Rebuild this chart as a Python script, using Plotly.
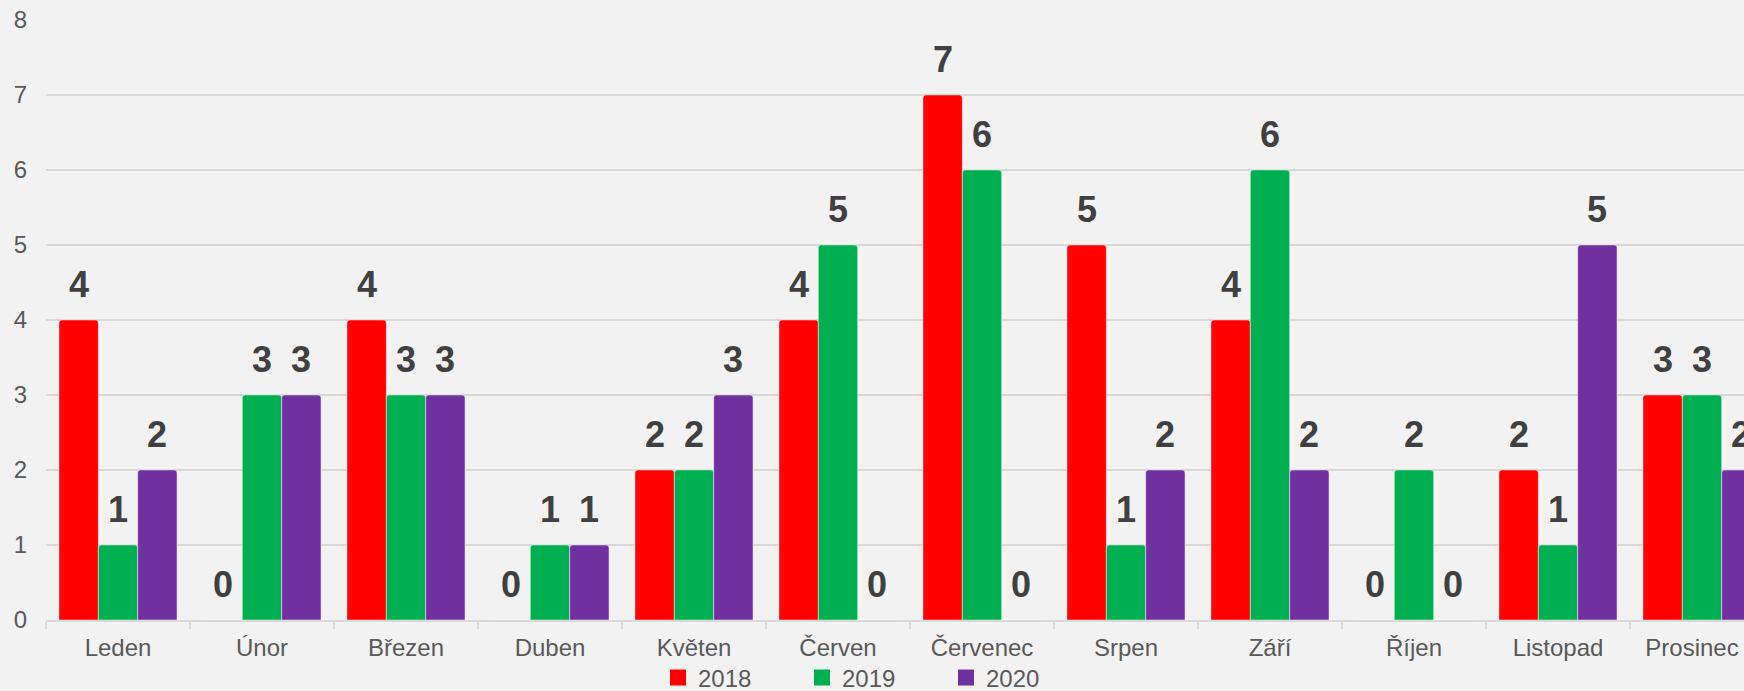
import plotly.graph_objects as go

months = ["Leden", "Únor", "Březen", "Duben", "Květen", "Červen",
          "Červenec", "Srpen", "Září", "Říjen", "Listopad", "Prosinec"]
years = ["2018", "2019", "2020"]
v2018 = [4, 0, 4, 0, 2, 4, 7, 5, 4, 0, 2, 3]
v2019 = [1, 3, 3, 1, 2, 5, 6, 1, 6, 2, 1, 3]
v2020 = [2, 3, 3, 1, 3, 0, 0, 2, 2, 0, 5, 2]
colors = ["#FF0000", "#00B050", "#7030A0"]
yticks = [0, 1, 2, 3, 4, 5, 6, 7, 8]

series = [v2018, v2019, v2020]

W, H = 1744, 691
ML, MR, MT, MB = 46, 0, 20, 71
cat_px = 144.0
bargap = 0.18
plot_w = W - ML - MR
plot_h = H - MT - MB
bar_px = cat_px * (1 - bargap) / 3

# last label nudged left so it fits inside the page (as in the source chart)
ticktext = months[:-1] + [months[-1] + "\u00a0\u00a0\u00a0"]

fig = go.Figure()
for i, (name, vals, col) in enumerate(zip(years, series, colors)):
    fig.add_trace(go.Bar(
        x=months, y=vals, name=name, marker_color=col,
        marker_line=dict(color="rgba(255,255,255,0.45)", width=1),
        showlegend=False,
    ))
    fig.add_trace(go.Scatter(
        x=[None], y=[None], mode="markers", name=name,
        marker=dict(symbol="square", size=16, color=col),
        showlegend=True,
    ))

annotations = []
for i, vals in enumerate(series):
    for m, v in zip(months, vals):
        annotations.append(dict(
            x=m, y=v, xref="x", yref="y", text=str(v), showarrow=False,
            xanchor="center", yanchor="bottom",
            xshift=(i - 1) * bar_px, yshift=13,
            font=dict(family="Liberation Sans, Arial", size=36, color="#404040", weight="bold"),
        ))

fig.update_layout(
    width=W, height=H,
    margin=dict(l=ML, r=MR, t=MT, b=MB, autoexpand=False),
    paper_bgcolor="#F2F2F2", plot_bgcolor="#F2F2F2",
    barmode="group", bargap=bargap, bargroupgap=0,
    barcornerradius=3,
    font=dict(family="Liberation Sans, Arial", size=24, color="#595959"),
    annotations=annotations,
    legend=dict(
        orientation="h", x=(658 - ML) / plot_w, xanchor="left",
        y=-58 / plot_h, yanchor="middle",
        entrywidth=99, entrywidthmode="pixels",
        font=dict(size=24, color="#595959"),
        bgcolor="rgba(0,0,0,0)", itemsizing="trace",
    ),
    xaxis=dict(
        type="category", range=[-0.5, -0.5 + plot_w / cat_px],
        tickmode="array", tickvals=months, ticktext=ticktext,
        showline=True, linecolor="#D9D9D9", linewidth=1.5,
        ticks="outside", tickson="boundaries", ticklen=7, tickcolor="#D9D9D9", tickwidth=1.5,
        ticklabelstandoff=5,
        showgrid=False, tickfont=dict(size=24, color="#595959"),
    ),
    yaxis=dict(
        range=[0, 8], tickvals=yticks, showgrid=True, gridcolor="#D9D9D9", gridwidth=1.5,
        zeroline=False, ticks="", ticklabelstandoff=18,
        tickfont=dict(size=24, color="#595959"),
    ),
)

fig.write_html(
    "out.html",
    config={"displayModeBar": False},
    post_script="document.body.style.margin='0';document.body.style.overflow='hidden';document.body.style.background='#F2F2F2';",
)
